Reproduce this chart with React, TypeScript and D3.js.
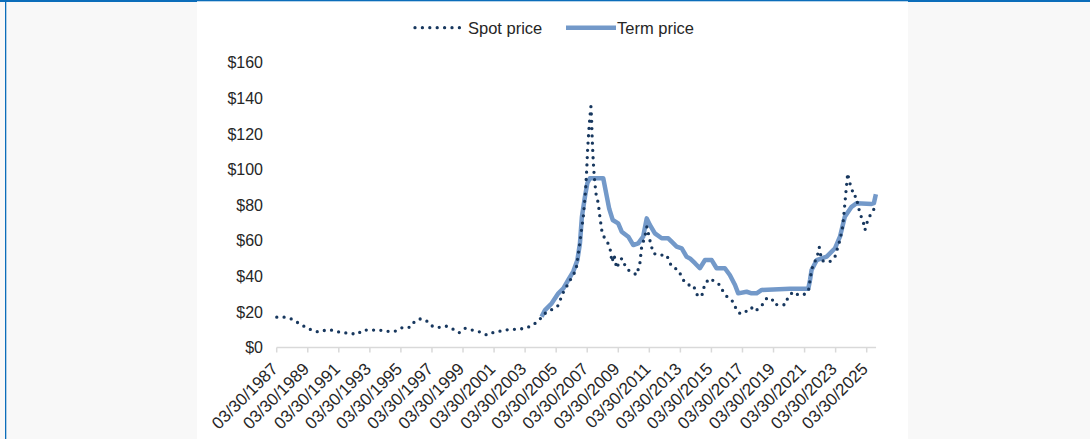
import { useEffect, useRef } from 'react';
import * as d3 from 'd3';

// uranium prices, US$/lb
const spotDates = [
    '1987-04-01', '1987-10-01', '1988-03-15', '1988-09-01', '1989-02-15', '1989-08-01', '1989-12-15',
    '1990-06-01', '1990-10-01', '1991-01-20', '1991-07-05', '1991-12-15', '1992-05-30', '1992-10-20',
    '1993-04-20', '1993-10-30', '1994-05-01', '1994-11-10', '1995-05-15', '1995-10-30', '1996-02-25',
    '1996-07-15', '1996-12-28', '1997-04-20', '1997-10-05', '1998-02-25', '1998-07-15', '1998-12-28',
    '1999-05-15', '1999-10-25', '2000-04-10', '2000-10-15', '2001-03-01', '2001-09-25', '2002-04-10',
    '2002-10-10', '2003-04-20', '2003-09-25', '2004-02-25', '2004-06-15', '2004-11-28', '2005-05-05',
    '2005-09-15', '2006-02-15', '2006-07-10', '2006-09-25', '2006-11-15', '2006-12-28', '2007-02-20',
    '2007-03-18', '2007-04-08', '2007-05-08', '2007-06-02', '2007-06-25', '2007-07-12', '2007-07-26',
    '2007-08-18', '2007-09-12', '2007-10-20', '2007-12-15', '2008-01-22', '2008-03-05', '2008-04-25',
    '2008-07-01', '2008-09-15', '2008-11-01', '2008-12-20', '2009-02-20', '2009-05-10', '2009-06-25',
    '2009-09-01', '2009-11-15', '2010-02-05', '2010-06-05', '2010-08-20', '2010-10-01', '2010-12-15',
    '2011-02-01', '2011-04-10', '2011-07-01', '2011-10-25', '2012-05-10', '2012-09-05', '2013-02-10',
    '2013-06-05', '2013-10-01', '2014-01-25', '2014-05-01', '2014-08-10', '2014-10-30', '2015-02-25',
    '2015-06-20', '2015-10-15', '2016-01-01', '2016-05-01', '2016-08-25', '2016-11-10', '2017-01-25',
    '2017-04-15', '2017-08-10', '2017-12-05', '2018-02-25', '2018-06-25', '2018-10-20', '2019-02-15',
    '2019-05-01', '2019-08-30', '2019-12-25', '2020-03-10', '2020-07-05', '2020-11-01', '2021-02-25',
    '2021-06-25', '2021-09-10', '2021-10-20', '2022-01-20', '2022-03-10', '2022-05-05', '2022-07-20',
    '2022-11-15', '2023-03-15', '2023-07-10', '2023-09-12', '2023-10-20', '2023-11-28', '2024-01-08',
    '2024-02-15', '2024-04-10', '2024-06-05', '2024-07-20', '2024-10-22', '2025-01-08', '2025-02-18',
    '2025-05-05', '2025-07-22', '2025-09-25',
];
const spotValues = [
    17, 17, 16, 13.6, 11.3, 9.4, 8.7,
    9.8, 9.8, 9, 8.3, 8, 7.4, 9.8,
    9.8, 9.8, 9.1, 9.1, 11.3, 11.3, 14.9,
    16.2, 14.5, 11.7, 11.3, 12, 10.6, 8.3,
    10.8, 9.8, 8.9, 7, 8.3, 9.4, 10.2,
    10.2, 10.9, 12.5, 15.4, 18.8, 21, 23.3,
    31, 37.5, 43.5, 56.6, 66, 73.4, 88.4,
    99.6, 111, 122, 129.6, 135.2, 127.7, 116.5,
    105, 96, 86.6, 81, 73.4, 66, 62.2,
    60, 56, 48, 52, 44.5, 49, 50,
    46.3, 43.5, 42.6, 40.7, 47.3, 56.6, 62.2,
    67.8, 60.4, 52.9, 51.9, 51.9, 45.4, 43.5,
    37.9, 35.1, 35.1, 29.5, 28.5, 36, 38.8,
    36.9, 35.1, 31.3, 27.6, 25.7, 21, 19.2,
    20.6, 20.1, 22.9, 21, 23.5, 27.6, 27.6,
    23.9, 24.4, 23.9, 28.5, 31.3, 29.5, 29.5,
    31.3, 43.5, 46.3, 51, 56.3, 49, 48.2,
    48.2, 51, 60.4, 67.8, 77.2, 87.5, 97.8,
    93.1, 89.4, 84.7, 85, 75.3, 70.6, 66,
    72.5, 75.3, 78.1,
];

const termDates = [
    '2004-04-20', '2004-07-10', '2004-12-15', '2005-05-20', '2005-09-15', '2006-01-08', '2006-05-05',
    '2006-08-10', '2006-10-10', '2006-11-25', '2007-02-05', '2007-04-01', '2007-06-01', '2008-04-10',
    '2008-07-01', '2008-08-28', '2008-11-18', '2009-03-28', '2009-06-18', '2009-11-20', '2010-03-18',
    '2010-07-12', '2010-11-05', '2011-01-28', '2011-04-12', '2011-08-08', '2012-01-15', '2012-06-18',
    '2012-09-05', '2013-01-01', '2013-05-01', '2013-08-25', '2013-11-10', '2014-03-08', '2014-07-01',
    '2014-10-30', '2015-04-05', '2015-07-30', '2016-02-10', '2016-06-05', '2016-10-05', '2016-12-20',
    '2017-07-05', '2017-10-30', '2018-02-25', '2018-06-25', '2020-04-20', '2021-06-25', '2021-08-05',
    '2021-09-10', '2022-01-08', '2022-09-01', '2023-03-15', '2023-07-10', '2023-11-01', '2024-04-08',
    '2024-08-08', '2025-07-22', '2025-09-15', '2025-11-01',
];
const termValues = [
    17.3, 21, 24.8, 30.4, 33.2, 37.9, 42.6,
    49, 58.5, 73.4, 84.7, 92.2, 95, 95,
    85, 78, 71.6, 69.7, 65, 62.2, 57.5,
    58.5, 62.2, 72.5, 68.8, 64.1, 61.3, 61.3,
    59.4, 56.6, 55.6, 50.9, 50, 47.3, 44.5,
    49.1, 49.1, 44.5, 44.5, 40.7, 35.1, 30.4,
    31.3, 30.4, 30.4, 32.3, 33, 33, 38,
    43.5, 49, 51, 55.7, 62.2, 73.4, 79,
    81, 80.6, 81, 86,
];

const tickYears = d3.range(1987, 2026, 2);
const yTicks = [0, 20, 40, 60, 80, 100, 120, 140, 160];

const spotColor = '#17375e';
const termColor = '#7399c9';
const font = 'Arial, "Liberation Sans", sans-serif';

export default function App() {
    const svgRef = useRef(null);

    useEffect(() => {
        const parse = d3.timeParse('%Y-%m-%d');
        const spot = spotDates.map((d, i) => ({ date: parse(d), value: spotValues[i] }));
        const term = termDates.map((d, i) => ({ date: parse(d), value: termValues[i] }));
        const tickDates = tickYears.map((y) => new Date(y, 2, 30));

        const x = d3.scaleTime()
            .domain([tickDates[0], tickDates[tickDates.length - 1]])
            .range([276.7, 866.7]);
        const y = d3.scaleLinear().domain([0, 160]).range([347.5, 62.5]);

        const svg = d3.select(svgRef.current);
        svg.selectAll('*').remove();

        // page + panel
        svg.append('rect').attr('width', 1090).attr('height', 439).attr('fill', '#f8f8f8');
        svg.append('rect').attr('x', 197).attr('y', 0).attr('width', 711).attr('height', 439).attr('fill', '#fff');
        svg.append('rect').attr('x', 0).attr('y', 0).attr('width', 1090).attr('height', 1.3).attr('fill', '#0b6dba');
        svg.append('rect').attr('x', 0).attr('y', 0).attr('width', 197).attr('height', 2).attr('fill', '#0b6dba');
        svg.append('rect').attr('x', 908).attr('y', 0).attr('width', 182).attr('height', 2).attr('fill', '#0b6dba');
        svg.append('rect').attr('x', 5).attr('y', 0).attr('width', 1.3).attr('height', 439).attr('fill', '#0b6dba');

        // y labels
        svg.append('g')
            .selectAll('text')
            .data(yTicks)
            .join('text')
            .attr('x', 263)
            .attr('y', (d) => y(d))
            .attr('dy', '0.36em')
            .attr('text-anchor', 'end')
            .attr('font-family', font)
            .attr('font-size', 16)
            .attr('fill', '#262626')
            .text((d) => `$${d}`);

        // x axis
        const endDate = new Date(2025, 10, 5);
        const xAxis = svg.append('g');
        xAxis.append('line')
            .attr('x1', x(tickDates[0]))
            .attr('x2', x(endDate))
            .attr('y1', y(0))
            .attr('y2', y(0))
            .attr('stroke', '#d9d9d9')
            .attr('stroke-width', 1.5);
        xAxis.selectAll('line.tick')
            .data(tickDates)
            .join('line')
            .attr('class', 'tick')
            .attr('x1', (d) => x(d))
            .attr('x2', (d) => x(d))
            .attr('y1', y(0))
            .attr('y2', y(0) + 5)
            .attr('stroke', '#d9d9d9')
            .attr('stroke-width', 1.5);
        const fmt = d3.timeFormat('%m/%d/%Y');
        xAxis.selectAll('text')
            .data(tickDates)
            .join('text')
            .attr('transform', (d) => `translate(${x(d) + 2.3},${y(0) + 22.5}) rotate(-45)`)
            .attr('text-anchor', 'end')
            .attr('font-family', font)
            .attr('font-size', 17)
            .attr('fill', '#262626')
            .text((d) => fmt(d));

        const line = d3.line()
            .x((d) => x(d.date))
            .y((d) => y(d.value));

        // term price (solid)
        svg.append('path')
            .datum(term)
            .attr('d', line)
            .attr('fill', 'none')
            .attr('stroke', termColor)
            .attr('stroke-width', 4.5)
            .attr('stroke-linejoin', 'round');

        // spot price (round dots)
        svg.append('path')
            .datum(spot)
            .attr('d', line)
            .attr('fill', 'none')
            .attr('stroke', spotColor)
            .attr('stroke-width', 3.3)
            .attr('stroke-linecap', 'round')
            .attr('stroke-dasharray', '0 7.3');

        // legend
        const legend = svg.append('g').attr('font-family', font).attr('font-size', 16.5).attr('fill', '#262626');
        legend.append('line')
            .attr('x1', 415).attr('x2', 460).attr('y1', 27.7).attr('y2', 27.7)
            .attr('stroke', spotColor)
            .attr('stroke-width', 3.3)
            .attr('stroke-linecap', 'round')
            .attr('stroke-dasharray', '0 7.4');
        legend.append('text').attr('x', 468).attr('y', 33.5).text('Spot price');
        legend.append('line')
            .attr('x1', 566).attr('x2', 616).attr('y1', 27.7).attr('y2', 27.7)
            .attr('stroke', termColor)
            .attr('stroke-width', 4.5);
        legend.append('text').attr('x', 617).attr('y', 33.5).text('Term price');
    }, []);

    return (
        <svg
            ref={svgRef}
            width={1090}
            height={439}
            style={{ position: 'fixed', left: 0, top: 0, display: 'block' }}
        />
    );
}
